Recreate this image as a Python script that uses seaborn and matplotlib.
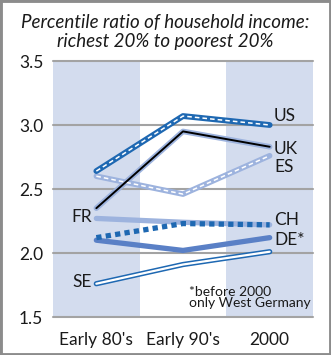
import matplotlib
matplotlib.use("Agg")
import matplotlib.pyplot as plt
import matplotlib.patches as mpatches
import seaborn as sns
import pandas as pd

periods = ["Early 80's", "Early 90's", "2000"]
us = [2.64, 3.07, 3.00]
uk = [2.35, 2.95, 2.83]
es = [2.60, 2.46, 2.76]
fr = [2.27, 2.24, 2.22]
ch = [2.12, 2.23, 2.22]
de = [2.10, 2.02, 2.12]
se = [1.76, 1.91, 2.01]
yticks = [1.5, 2.0, 2.5, 3.0, 3.5]
title = "Percentile ratio of household income:\nrichest 20% to poorest 20%"
footnote = "*before 2000\nonly West Germany"

sns.set_theme(style="white")
plt.rcParams['font.family'] = ['Lato', 'DejaVu Sans']

fig = plt.figure(figsize=(3.31, 3.55), dpi=100)
ax = fig.add_axes([53/331, 1-317/355, 260/331, 256/355])

DARK = "#1e68b2"
LIGHT = "#9db3de"
MED = "#5a80c6"
SHADE = "#d3dcee"
TXT = "#1a1a1a"

def df(vals):
    return pd.DataFrame({"period": periods, "value": vals})

# shaded bands
ax.axvspan(-0.5, 0.5, color=SHADE, lw=0, zorder=0)
ax.axvspan(1.5, 2.5, color=SHADE, lw=0, zorder=0)

for y in yticks:
    ax.axhline(y, color="#a3a3a3", lw=1.5, zorder=1, clip_on=False)

def line(vals, **kw):
    sns.lineplot(data=df(vals), x="period", y="value", ax=ax, sort=False,
                 legend=False, **kw)

# SE double line
line(se, color=DARK, lw=3.8, zorder=3)
line(se, color="white", lw=1.6, zorder=4)
# DE
line(de, color=MED, lw=3.8, zorder=3)
# FR
line(fr, color=LIGHT, lw=3.8, zorder=3)
# CH dotted
line(ch, color=DARK, lw=3.8, zorder=5, linestyle=(0, (1.0, 0.8)))
# ES
line(es, color=LIGHT, lw=4.0, zorder=3)
line(es, color="white", lw=1.1, zorder=4, linestyle=(0, (3, 2)))
# UK
line(uk, color=LIGHT, lw=4.0, zorder=3)
line(uk, color="black", lw=1.4, zorder=4)
# US
line(us, color=DARK, lw=4.2, zorder=6)
line(us, color="white", lw=1.1, zorder=7, linestyle=(0, (3, 2)))

ax.set_xlim(-0.5, 2.5)
ax.set_ylim(1.5, 3.5)
ax.set_yticks(yticks)
ax.set_yticklabels([f"{v:.1f}" for v in yticks])
ax.set_xlabel("")
ax.set_ylabel("")
for s in ax.spines.values():
    s.set_visible(False)
ax.tick_params(axis="y", length=0, pad=7, labelsize=12.5, colors=TXT)
ax.tick_params(axis="x", length=0, pad=11, labelsize=12.5, colors=TXT)
ax.grid(False)

# series labels
lab = dict(fontsize=12.5, color=TXT, va="center")
ax.text(2.05, us[2] + 0.07, "US", ha="left", **lab)
ax.text(2.05, uk[2] - 0.02, "UK", ha="left", **lab)
ax.text(2.05, es[2] - 0.09, "ES", ha="left", **lab)
ax.text(2.05, ch[2] + 0.04, "CH", ha="left", **lab)
ax.text(2.05, de[2] - 0.02, "DE*", ha="left", **lab)
ax.text(-0.05, fr[0] + 0.01, "FR", ha="right", **lab)
ax.text(-0.05, se[0] + 0.01, "SE", ha="right", **lab)
ax.text(2.47, 1.56, footnote, ha="right", va="bottom", fontsize=10,
        color=TXT, linespacing=0.95, multialignment="left")

fig.text(0.5, 1-32/355, title, ha="center", va="center", fontsize=13.5,
         style="italic", color=TXT, linespacing=1.15)

fig.add_artist(mpatches.Rectangle((0, 0), 1, 1, transform=fig.transFigure,
                                  fill=False, ec="#8c8c8c", lw=3.5))
fig.savefig("out.png", dpi=100)
